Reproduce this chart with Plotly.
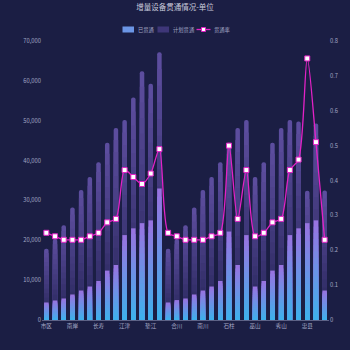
import plotly.graph_objects as go

# ---------------- data ----------------
categories = ["市区", "万州", "涪陵", "南岸", "渝北", "巴南", "长寿", "北碚", "綦江", "江津", "大足",
              "璧山", "垫江", "铜梁", "潼南", "合川", "荣昌", "开州", "南川", "梁平", "武隆", "石柱",
              "城口", "丰都", "巫山", "云阳", "奉节", "秀山", "巫溪", "酉阳", "忠县", "彭水", "永川"]
tick_labels = ["市区", "南岸", "长寿", "江津", "垫江", "合川", "南川", "石柱", "巫山", "秀山", "忠县"]

planned = [17900, 20300, 23800, 28200, 32600, 35900, 39600, 44500, 48200, 50200, 55800,
           62400, 59300, 67200, 17900, 20300, 23800, 28200, 32600, 35900, 39600, 44500,
           48200, 50200, 35900, 39600, 44500, 48200, 50200, 49800, 32400, 49300, 32500]
done = [4400, 4900, 5400, 6400, 7400, 8400, 9800, 12400, 13800, 21300, 23000,
        24300, 25000, 33000, 4400, 5000, 5400, 6400, 7400, 8400, 9800, 22200,
        13800, 21300, 8400, 9800, 12400, 13800, 21300, 23000, 24300, 25000, 7400]
rate = [0.25, 0.24, 0.23, 0.23, 0.23, 0.24, 0.25, 0.28, 0.29, 0.43, 0.41,
        0.39, 0.42, 0.49, 0.25, 0.24, 0.23, 0.23, 0.23, 0.24, 0.25, 0.50,
        0.29, 0.43, 0.24, 0.25, 0.28, 0.29, 0.43, 0.46, 0.75, 0.51, 0.23]
series_names = ["已贯通", "计划贯通", "贯通率"]

# ---------------- style ----------------
BG = "#1b1e44"
FONT = "Noto Sans CJK SC, Noto Sans, sans-serif"
TXT = "#a3a7c4"
DONE_TOP, DONE_BOT = (154, 114, 224), (60, 178, 236)
PLAN_TOP, PLAN_BOT = (94, 78, 160), (36, 36, 86)
LINE_C = "#e322c6"
N = 16
BW = 0.52
ML, MR, MT, MB = 42, 21, 41, 30
W = H = 350
PW, PH = W - ML - MR, H - MT - MB


def mix(c1, c2, t):
    return "rgb(%d,%d,%d)" % tuple(round(a + (b - a) * t) for a, b in zip(c1, c2))


def pxx(x):
    return (x - ML) / PW


def pyy(y):
    return (H - MB - y) / PH


fig = go.Figure()


def gradient_bars(values, top, bot, name):
    for k in range(N):
        frac = (N - k) / N
        fig.add_trace(go.Bar(
            x=categories, y=[v * frac for v in values], width=BW,
            marker=dict(color=mix(bot, top, (N - k - 0.5) / N), line=dict(width=0),
                        cornerradius=2 if k == 0 else 0),
            name=name, showlegend=False, hoverinfo="skip",
        ))


gradient_bars(planned, PLAN_TOP, PLAN_BOT, series_names[1])
gradient_bars(done, DONE_TOP, DONE_BOT, series_names[0])

fig.add_trace(go.Scatter(
    x=categories, y=rate, yaxis="y2", name=series_names[2], mode="lines+markers", showlegend=False,
    line=dict(color=LINE_C, width=1.3, shape="spline", smoothing=0.8),
    marker=dict(symbol="square", size=5, color="#ffffff", line=dict(color=LINE_C, width=1)),
))

# ---------------- compact legend ----------------
LY = 29.5
LF = dict(size=5.3, color=TXT, family=FONT)
shapes = [
    dict(type="rect", xref="paper", yref="paper", x0=pxx(122.5), x1=pxx(134), y0=pyy(LY + 3), y1=pyy(LY - 3),
         fillcolor="rgb(108,150,230)", line=dict(width=0)),
    dict(type="rect", xref="paper", yref="paper", x0=pxx(157.5), x1=pxx(169), y0=pyy(LY + 3), y1=pyy(LY - 3),
         fillcolor="rgb(62,54,120)", line=dict(width=0)),
    dict(type="line", xref="paper", yref="paper", x0=pxx(196.5), x1=pxx(210.5), y0=pyy(LY), y1=pyy(LY),
         line=dict(color=LINE_C, width=1.3)),
    dict(type="rect", xref="paper", yref="paper", x0=pxx(201.5), x1=pxx(205.5), y0=pyy(LY + 2), y1=pyy(LY - 2),
         fillcolor="#ffffff", line=dict(color=LINE_C, width=1)),
]
annotations = [
    dict(text=series_names[0], x=pxx(136), y=pyy(LY), xref="paper", yref="paper", xanchor="left",
         yanchor="middle", showarrow=False, font=LF),
    dict(text=series_names[1], x=pxx(170.5), y=pyy(LY), xref="paper", yref="paper", xanchor="left",
         yanchor="middle", showarrow=False, font=LF),
    dict(text=series_names[2], x=pxx(212), y=pyy(LY), xref="paper", yref="paper", xanchor="left",
         yanchor="middle", showarrow=False, font=LF),
]

fig.update_layout(
    width=W, height=H, paper_bgcolor=BG, plot_bgcolor=BG,
    margin=dict(l=ML, r=MR, t=MT, b=MB, autoexpand=False),
    barmode="overlay", showlegend=False,
    font=dict(family=FONT, color=TXT, size=6),
    title=dict(text="增量设备贯通情况-单位", x=0.5, xanchor="center", y=1 - 7 / H, yanchor="middle",
               font=dict(size=7.5, color="#c9cbdc", family=FONT)),
    shapes=shapes, annotations=annotations,
    xaxis=dict(type="category", categoryorder="array", categoryarray=categories,
               range=[-0.5, len(categories) - 0.5],
               tickmode="array", tickvals=tick_labels, ticktext=tick_labels,
               showline=True, linecolor="#5d6286", linewidth=1, ticks="", showgrid=False,
               automargin=False, tickfont=dict(size=5.6, color=TXT)),
    yaxis=dict(range=[0, 70000], dtick=10000, tickformat=",d", showgrid=False, zeroline=False,
               ticks="", automargin=False, tickfont=dict(size=5.8, color=TXT)),
    yaxis2=dict(range=[0, 0.8], dtick=0.1, overlaying="y", side="right", showgrid=False,
                zeroline=False, ticks="", automargin=False, tickfont=dict(size=5.8, color=TXT)),
)

fig.write_html("out.html")
